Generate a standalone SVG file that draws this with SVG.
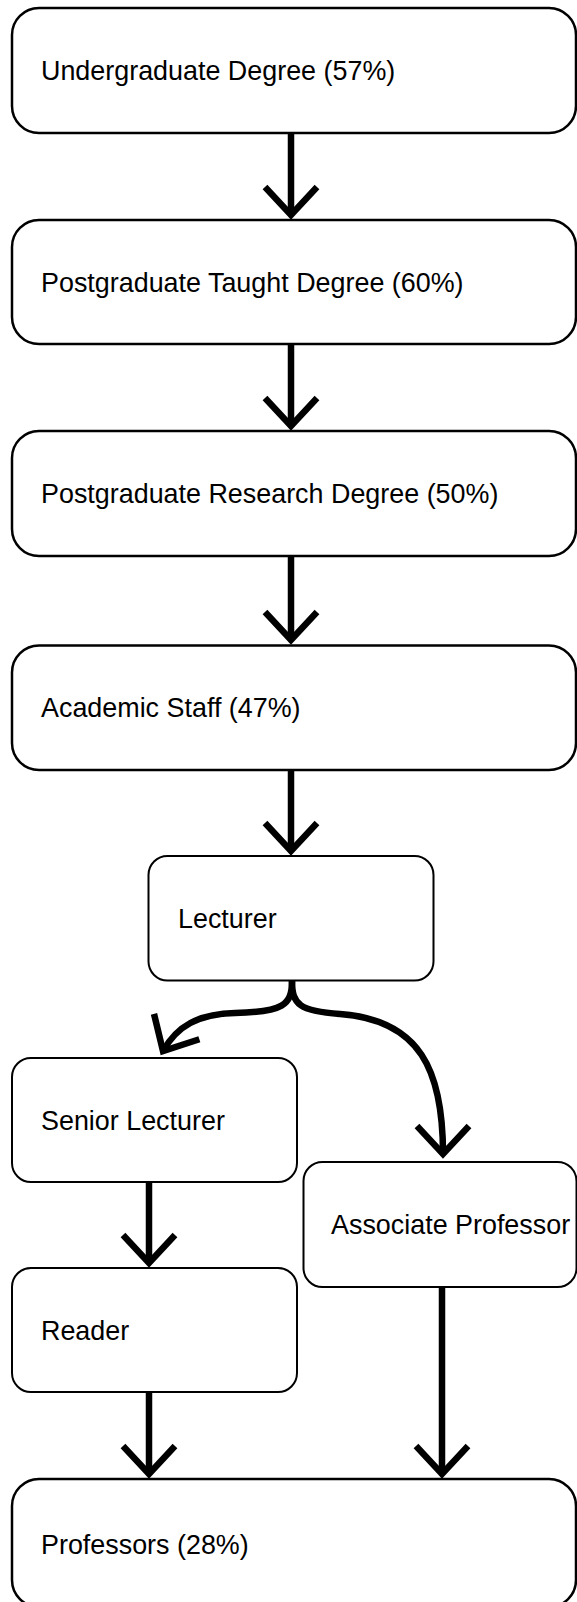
<svg xmlns="http://www.w3.org/2000/svg" width="577" height="1602" viewBox="0 0 577 1602">
  <style>
    .box { fill: #ffffff; stroke: #000000; }
    .wide { stroke-width: 2.5; }
    .narrow { stroke-width: 2; }
    .lbl { font-family: "Liberation Sans", Arial, Helvetica, sans-serif; font-size: 26.9px; fill: #000000; }
    .edge { fill: none; stroke: #000000; stroke-width: 6.5; stroke-linecap: butt; }
  </style>
  <defs>
    <marker id="arrow" markerUnits="userSpaceOnUse" orient="auto" refX="0" refY="0" markerWidth="60" markerHeight="80" overflow="visible">
      <path d="M -28 -26 L 0 0 L -28 26" fill="none" stroke="#000000" stroke-width="6.5" stroke-linejoin="miter" stroke-miterlimit="10"/>
    </marker>
  </defs>
  <rect width="577" height="1602" fill="#ffffff"/>

  <g id="connectors">
    <path class="edge" d="M 291 133 L 291 215" marker-end="url(#arrow)"/>
    <path class="edge" d="M 291 344 L 291 426" marker-end="url(#arrow)"/>
    <path class="edge" d="M 291 556 L 291 640" marker-end="url(#arrow)"/>
    <path class="edge" d="M 291 770 L 291 851" marker-end="url(#arrow)"/>
    <path class="edge" d="M 292 981 C 292 1005 283 1012 235 1013 C 198 1014 177 1026 163 1051" marker-end="url(#arrow)"/>
    <path class="edge" d="M 292 981 C 292 1005 300 1011 340 1014 C 420 1020 443 1070 443 1154" marker-end="url(#arrow)"/>
    <path class="edge" d="M 149 1182 L 149 1263" marker-end="url(#arrow)"/>
    <path class="edge" d="M 149 1392 L 149 1474" marker-end="url(#arrow)"/>
    <path class="edge" d="M 442 1287 L 442 1474" marker-end="url(#arrow)"/>
  </g>

  <g id="undergraduate">
    <rect class="box wide" x="12" y="8" width="564" height="125" rx="27" ry="27"/>
    <text class="lbl" x="41" y="80">Undergraduate Degree (57%)</text>
  </g>
  <g id="postgraduate-taught">
    <rect class="box wide" x="12" y="220" width="564" height="124" rx="27" ry="27"/>
    <text class="lbl" x="41" y="291.5">Postgraduate Taught Degree (60%)</text>
  </g>
  <g id="postgraduate-research">
    <rect class="box wide" x="12" y="431" width="564" height="125" rx="27" ry="27"/>
    <text class="lbl" x="41" y="503">Postgraduate Research Degree (50%)</text>
  </g>
  <g id="academic-staff">
    <rect class="box wide" x="12" y="645.5" width="564" height="124.5" rx="27" ry="27"/>
    <text class="lbl" x="41" y="717">Academic Staff (47%)</text>
  </g>
  <g id="lecturer">
    <rect class="box narrow" x="148.5" y="856" width="285" height="124.5" rx="19" ry="19"/>
    <text class="lbl" x="178" y="927.7">Lecturer</text>
  </g>
  <g id="senior-lecturer">
    <rect class="box narrow" x="12" y="1058" width="285" height="124" rx="19" ry="19"/>
    <text class="lbl" x="41" y="1129.5">Senior Lecturer</text>
  </g>
  <g id="associate-professor">
    <rect class="box narrow" x="303.5" y="1162" width="273" height="125" rx="19" ry="19"/>
    <text class="lbl" x="331" y="1234">Associate Professor</text>
  </g>
  <g id="reader">
    <rect class="box narrow" x="12" y="1268" width="285" height="124" rx="19" ry="19"/>
    <text class="lbl" x="41" y="1339.5">Reader</text>
  </g>
  <g id="professors">
    <rect class="box wide" x="12" y="1479" width="564" height="128" rx="27" ry="27"/>
    <text class="lbl" x="41" y="1553.5">Professors (28%)</text>
  </g>
</svg>
